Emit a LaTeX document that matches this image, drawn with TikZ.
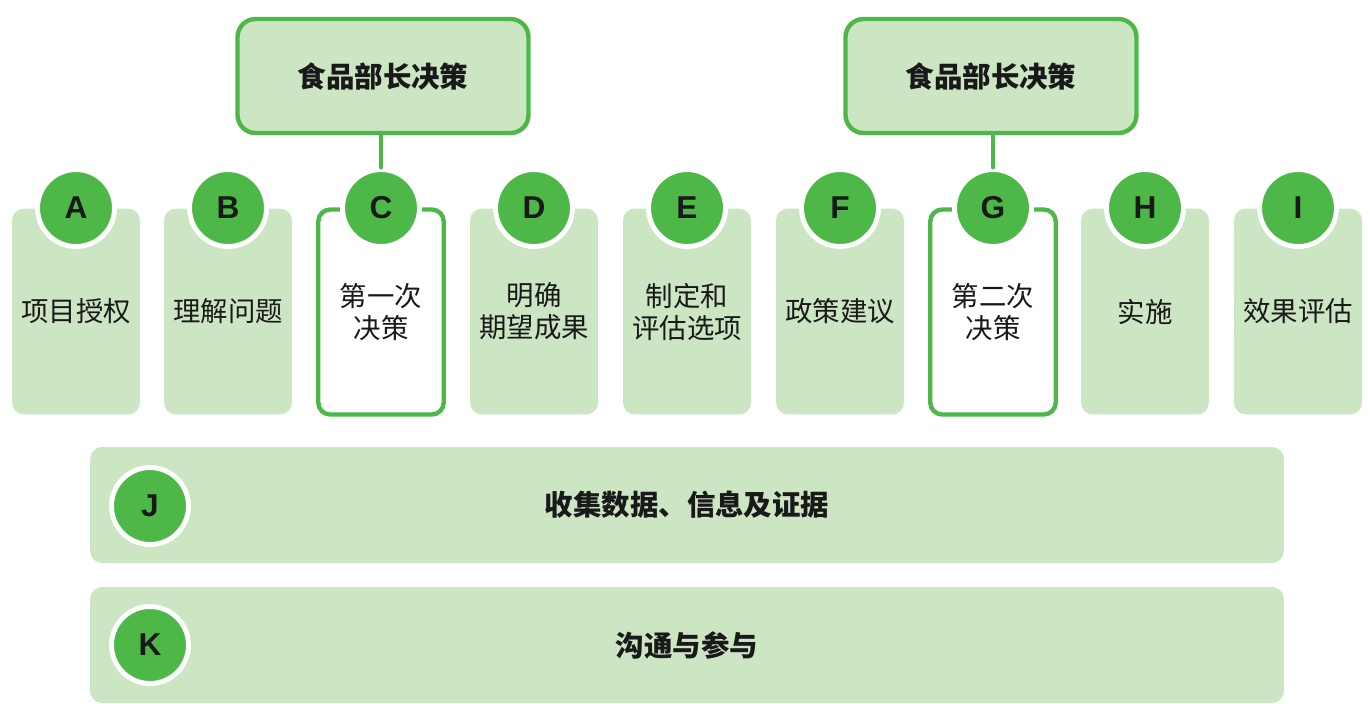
\documentclass[tikz,border=0pt]{standalone}
\usepackage{fontspec}
\setmainfont{Liberation Sans}
\newfontfamily\cjk{Noto Sans CJK SC}
\usetikzlibrary{positioning}
\definecolor{penColor}{HTML}{4DB848}
\definecolor{fillColor}{HTML}{CCE5C3}
\colorlet{textColor}{black!90}
\tikzset{
  column/.style={rectangle,rounded corners=12pt*0.5669,fill=fillColor,
    minimum width=2.56cm,minimum height=4.12cm,inner sep=0pt,align=center,
    text=textColor,font=\cjk\fontsize{15.6}{18.2}\selectfont},
  decision/.style={column,fill=white,draw=penColor,line width=2.5pt,
    minimum width=2.51cm,minimum height=4.1cm},
  letter/.style={circle,fill=penColor,draw=white,line width=2.8pt,
    minimum size=1.54cm,inner sep=0pt,text=textColor,
    font=\fontsize{18}{18}\selectfont\bfseries},
  chief/.style={rectangle,rounded corners=18pt*0.5669,fill=fillColor,
    draw=penColor,line width=2.5pt,minimum width=5.82cm,minimum height=2.28cm,
    text=textColor,font=\cjk\fontsize{16.2}{19}\selectfont\bfseries},
  band/.style={rectangle,rounded corners=12pt*0.5669,fill=fillColor,
    minimum width=23.88cm,minimum height=2.32cm,text=textColor,
    font=\cjk\fontsize{16.2}{19}\selectfont\bfseries}
}

\begin{document}
\begin{tikzpicture}[x=0.02cm,y=-0.02cm,line cap=round]

  \useasboundingbox (0,0) rectangle (1368,708);

  % columns
  \node [column]   (colA) at (76,311.5)   {项目授权};
  \node [column]   (colB) at (228,311.5)  {理解问题};
  \node [decision] (colC) at (381,312)    {第一次\\决策};
  \node [column]   (colD) at (534,311.5)  {明确\\期望成果};
  \node [column]   (colE) at (687,311.5)  {制定和\\评估选项};
  \node [column]   (colF) at (840,311.5)  {政策建议};
  \node [decision] (colG) at (993,312)    {第二次\\决策};
  \node [column]   (colH) at (1145,311.5) {实施};
  \node [column]   (colI) at (1298,311.5) {效果评估};

  % decisions of the minister
  \node [chief] (chiefOne) at (383,76) {食品部长决策};
  \node [chief] (chiefTwo) at (991,76) {食品部长决策};

  \node [letter] (A) at (76,208)   {A};
  \node [letter] (B) at (228,208)  {B};
  \node [letter] (C) at (381,208)  {C};
  \node [letter] (D) at (534,208)  {D};
  \node [letter] (E) at (687,208)  {E};
  \node [letter] (F) at (840,208)  {F};
  \node [letter] (G) at (993,208)  {G};
  \node [letter] (H) at (1145,208) {H};
  \node [letter] (I) at (1298,208) {I};

  \draw [penColor,line width=2.8pt] (chiefOne.south -| C) -- (C.north);
  \draw [penColor,line width=2.8pt] (chiefTwo.south -| G) -- (G.north);

  % bands
  \node [band] (gather) at (687,505) {收集数据、信息及证据};
  \node [band] (engage) at (687,645) {沟通与参与};

  \node [letter] (J) at (150,506) {J};
  \node [letter] (K) at (150,645) {K};

\end{tikzpicture}
\end{document}
